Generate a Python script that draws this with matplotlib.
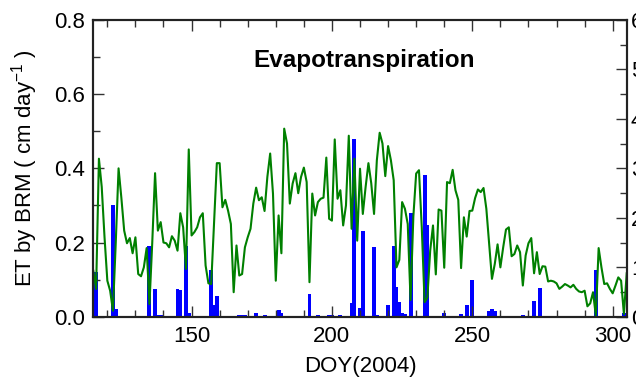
import matplotlib
matplotlib.use("Agg")
import matplotlib.pyplot as plt
from matplotlib.ticker import MultipleLocator, FormatStrFormatter
import numpy as np

plt.rcParams['font.family'] = ['Liberation Sans', 'DejaVu Sans']

# daily ET by BRM (cm/day), DOY 115..305
doy = np.arange(115, 306)
et = [0.124, 0.075, 0.426, 0.350, 0.214, 0.097, 0.070, 0.016, 0.200, 0.400,
      0.320, 0.232, 0.198, 0.212, 0.171, 0.214, 0.115, 0.109, 0.133, 0.185,
      0.034, 0.200, 0.387, 0.232, 0.255, 0.200, 0.198, 0.187, 0.217, 0.205,
      0.178, 0.279, 0.241, 0.129, 0.451, 0.219, 0.228, 0.241, 0.268, 0.279,
      0.138, 0.090, 0.088, 0.250, 0.414, 0.414, 0.295, 0.315, 0.286, 0.250,
      0.066, 0.192, 0.111, 0.115, 0.187, 0.214, 0.237, 0.305, 0.348, 0.314,
      0.322, 0.285, 0.377, 0.440, 0.332, 0.097, 0.273, 0.171, 0.507, 0.467,
      0.305, 0.359, 0.387, 0.333, 0.377, 0.402, 0.363, 0.093, 0.332, 0.273,
      0.309, 0.318, 0.321, 0.429, 0.264, 0.259, 0.478, 0.318, 0.341, 0.246,
      0.300, 0.488, 0.237, 0.426, 0.205, 0.399, 0.277, 0.350, 0.414, 0.360,
      0.277, 0.422, 0.496, 0.467, 0.379, 0.460, 0.422, 0.368, 0.133, 0.153,
      0.309, 0.291, 0.250, 0.045, 0.270, 0.386, 0.395, 0.241, 0.039, 0.052,
      0.178, 0.246, 0.114, 0.289, 0.286, 0.132, 0.363, 0.360, 0.396, 0.341,
      0.315, 0.131, 0.268, 0.216, 0.285, 0.286, 0.320, 0.343, 0.336, 0.347,
      0.291, 0.196, 0.102, 0.142, 0.195, 0.133, 0.187, 0.235, 0.241, 0.163,
      0.169, 0.192, 0.174, 0.084, 0.165, 0.198, 0.212, 0.117, 0.174, 0.115,
      0.136, 0.135, 0.095, 0.097, 0.095, 0.090, 0.075, 0.081, 0.088, 0.084,
      0.079, 0.086, 0.075, 0.068, 0.066, 0.070, 0.028, 0.036, 0.066, 0.003,
      0.185, 0.133, 0.088, 0.090, 0.075, 0.063, 0.084, 0.106, 0.097, 0.007,
      0.117]

# precipitation days and amounts (right axis units)
rain_doy = [116, 122, 123, 135, 137, 138, 139, 145, 146, 148, 149, 157, 158, 159,
            167, 168, 169, 173, 176, 181, 182, 192, 195, 199, 200, 203, 207, 208,
            210, 211, 215, 216, 220, 222, 223, 224, 225, 226, 228, 233, 234, 240,
            246, 248, 250, 256, 257, 258, 268, 272, 274, 294, 304, 305]
rain = [0.90, 2.25, 0.15, 1.43, 0.56, 0.04, 0.04, 0.56, 0.53, 1.43, 0.08, 0.95, 0.23, 0.41,
        0.04, 0.04, 0.04, 0.07, 0.03, 0.14, 0.08, 0.45, 0.04, 0.03, 0.03, 0.03, 0.28, 3.60,
        0.17, 1.74, 1.40, 0.03, 0.23, 1.43, 0.60, 0.30, 0.08, 0.05, 2.10, 2.86, 1.85, 0.08,
        0.06, 0.24, 0.75, 0.11, 0.15, 0.11, 0.03, 0.32, 0.59, 0.95, 0.08, 0.08]

fig = plt.figure(figsize=(6.36, 3.87), dpi=100)
ax = fig.add_axes([0.1467, 0.1817, 0.8387, 0.7666])
ax2 = ax.twinx()

# bars behind, line in front
ax.set_zorder(2)
ax2.set_zorder(1)
ax.patch.set_visible(False)
ax2.set_facecolor('#fefad2')

ax2.bar(rain_doy, rain, width=1.4, color='#0000ff', linewidth=0)
ax.plot(doy, et, color='#008000', linewidth=1.5)

ax.set_xlim(115, 305)
ax.set_ylim(0, 0.8)
ax2.set_ylim(0, 6)

ax.xaxis.set_major_locator(MultipleLocator(50))
ax.xaxis.set_minor_locator(MultipleLocator(10))
ax.yaxis.set_major_locator(MultipleLocator(0.2))
ax.yaxis.set_minor_locator(MultipleLocator(0.1))
ax.yaxis.set_major_formatter(FormatStrFormatter('%.1f'))
ax2.yaxis.set_major_locator(MultipleLocator(1))
ax2.yaxis.set_minor_locator(MultipleLocator(0.5))

ax.tick_params(axis='x', which='both', direction='in', top=True, labelsize=16, pad=7, color='#333333')
ax.tick_params(axis='y', which='both', direction='in', left=True, right=False, labelsize=16, pad=6, color='#333333')
ax.tick_params(which='major', length=8, width=1)
ax.tick_params(which='minor', length=5, width=1)
ax2.tick_params(axis='y', which='both', direction='in', labelsize=16, pad=3, color='#333333')
ax2.tick_params(which='major', length=8, width=1)
ax2.tick_params(which='minor', length=5, width=1)

for a in (ax, ax2):
    for s in a.spines.values():
        s.set_linewidth(1.5)
        s.set_color('#222222')

ax.set_xlabel('DOY(2004)', fontsize=16, labelpad=6)
ax.set_ylabel('ET by BRM ( cm day$^{\\mathregular{-1}}$ )', fontsize=16, labelpad=10)
ax.text(0.507, 0.865, 'Evapotranspiration', transform=ax.transAxes,
        ha='center', va='center', fontsize=17.5, fontweight='bold')

fig.savefig('out.png', dpi=100)
